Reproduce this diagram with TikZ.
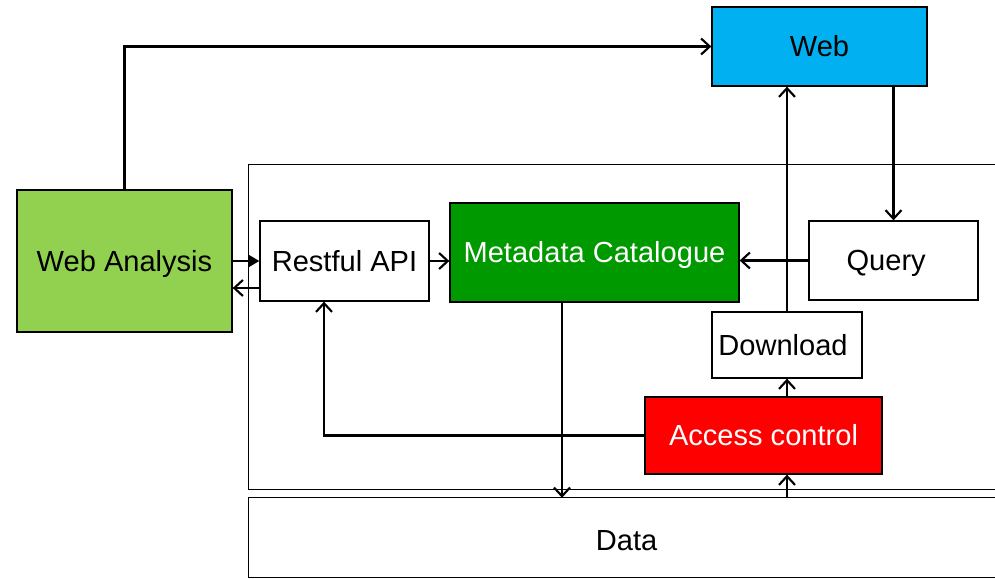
\documentclass[tikz,border=0pt]{standalone}
\usepackage{fontspec}
\setmainfont{Liberation Sans}
\usetikzlibrary{arrows.meta}
\definecolor{lightgreen}{HTML}{92D050}
\definecolor{darkgreen}{HTML}{009900}
\definecolor{skyblue}{HTML}{00B0F0}
\definecolor{alertred}{HTML}{FF0000}
\tikzset{
  label font/.style={font=\fontsize{21.8}{26}\selectfont, text height=15.6pt, text depth=0pt},
  box/.style={draw=black, line width=1pt, fill=white, inner sep=0pt, label font},
  frame/.style={line width=1pt},
  link/.style={line width=1.6pt, -{Straight Barb[length=6.5pt,width=12pt,line width=1.6pt]}},
  solidlink/.style={line width=1.5pt, -{Triangle[length=8pt,width=9pt]}},
}
\begin{document}
\begin{tikzpicture}[x=0.75pt,y=-0.75pt]
\useasboundingbox (0,0) rectangle (995,578);

% layer container and data store (open to the right)
\node[inner sep=0pt, minimum width=559.5pt, minimum height=243pt] (layer) at (622,327) {};
\node[inner sep=0pt, minimum width=559.5pt, minimum height=59.25pt, label font] (data) at (622,537.5) {\raisebox{-2pt}{Data}\hspace*{-7pt}};
\draw[frame] (layer.north east) -- (layer.north west) -- (layer.south west) -- (layer.south east);
\draw[frame] (data.north east) -- (data.north west) -- (data.south west) -- (data.south east);

% components
\node[box, fill=lightgreen, minimum width=161.25pt, minimum height=106.5pt] (wa) at (124.5,261) {Web Analysis};
\node[box, minimum width=126.75pt, minimum height=60pt] (rest) at (344.5,261) {Restful API};
\node[box, fill=darkgreen, text=white, minimum width=216.75pt, minimum height=74.25pt] (meta) at (594.5,252.5) {Metadata Catalogue};
\node[box, minimum width=126.75pt, minimum height=59.25pt] (query) at (893.5,260.5) {Query\hspace*{11pt}};
\node[box, fill=skyblue, minimum width=161.25pt, minimum height=59.25pt] (web) at (819.5,46.5) {Web};
\node[box, minimum width=112.5pt, minimum height=49.5pt] (down) at (787,345) {Download\hspace*{6pt}};
\node[box, fill=alertred, text=white, minimum width=177.75pt, minimum height=57.75pt] (acc) at (763.5,435.5) {Access control};

% helper points
\coordinate (back) at ([yshift=-20.25pt]rest.west);
\coordinate (metaout) at ([xshift=-24.375pt]meta.south);
\coordinate (restin) at ([xshift=-15.375pt]rest.south);

% connectors
\draw[link] (wa.north) |- (web.west);
\draw[solidlink] (wa.east) -- (rest.west);
\draw[link] (back) -- (back -| wa.east);
\draw[link] (rest.east) -- (rest.east -| meta.west);
\draw[link] (query.west) -- (query.west -| meta.east);
\draw[link] (query.north |- web.south) -- (query.north);
\draw[link] (down.north) -- (down.north |- web.south);
\draw[link] (down.south |- acc.north) -- (down.south);
\draw[link] (down.south |- data.north) -- (down.south |- acc.south);
\draw[link] (metaout) -- (metaout |- data.north);
\draw[link] (acc.west) -| (restin);
\end{tikzpicture}
\end{document}
